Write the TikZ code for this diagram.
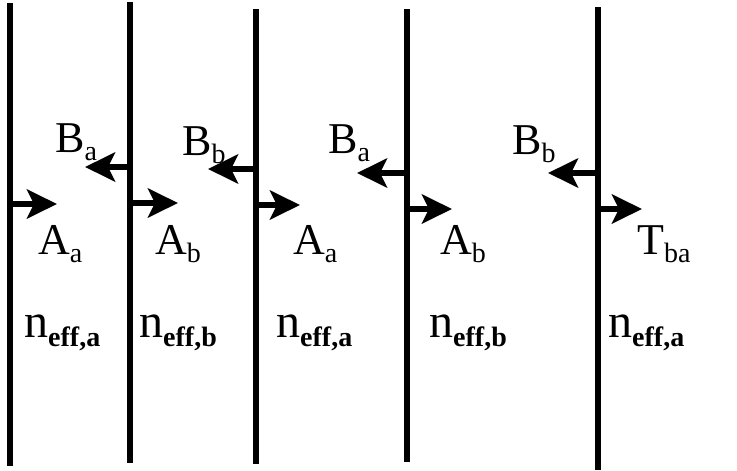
\documentclass[tikz,border=0pt]{standalone}
\usepackage{fontspec}
\setmainfont{Liberation Serif}
\usetikzlibrary{arrows.meta}
\newcommand{\lbl}[2]{#1\raisebox{-8pt}{\fontsize{28}{28}\selectfont #2}}
\newcommand{\nlbl}[1]{{\fontsize{48}{48}\selectfont n}\raisebox{-9pt}{\fontsize{28}{28}\selectfont\bfseries eff,#1}}
\tikzset{
  wall/.style={line width=6pt},
  wave/.style={line width=6pt,-{Stealth[length=30pt,width=29pt,inset=7pt]}},
  lab/.style={anchor=base west,inner sep=0pt,font=\fontsize{44}{48}\selectfont}
}
\begin{document}
\begin{tikzpicture}[x=1pt,y=-1pt]
\useasboundingbox (0,0) rectangle (737,471);
% walls
\coordinate (t1) at (10,3);   \coordinate (b1) at (10,466);
\coordinate (t2) at (130,2);  \coordinate (b2) at (130,463);
\coordinate (t3) at (256,9);  \coordinate (b3) at (256,464);
\coordinate (t4) at (407,9);  \coordinate (b4) at (407,462);
\coordinate (t5) at (598,7);  \coordinate (b5) at (598,470);
\draw[wall] (t1) -- (b1);
\draw[wall] (t2) -- (b2);
\draw[wall] (t3) -- (b3);
\draw[wall] (t4) -- (b4);
\draw[wall] (t5) -- (b5);
% right-going arrows
\coordinate (r1s) at (10,204);  \coordinate (r1e) at (57,204);
\coordinate (r2s) at (130,203); \coordinate (r2e) at (178,203);
\coordinate (r3s) at (256,205); \coordinate (r3e) at (300,205);
\coordinate (r4s) at (407,209); \coordinate (r4e) at (452,209);
\coordinate (r5s) at (598,209); \coordinate (r5e) at (642,209);
\draw[wave] (r1s) -- (r1e);
\draw[wave] (r2s) -- (r2e);
\draw[wave] (r3s) -- (r3e);
\draw[wave] (r4s) -- (r4e);
\draw[wave] (r5s) -- (r5e);
% left-going arrows
\coordinate (l2s) at (130,167); \coordinate (l2e) at (85,167);
\coordinate (l3s) at (256,169); \coordinate (l3e) at (208,169);
\coordinate (l4s) at (407,173); \coordinate (l4e) at (357,173);
\coordinate (l5s) at (598,173); \coordinate (l5e) at (548,173);
\draw[wave] (l2s) -- (l2e);
\draw[wave] (l3s) -- (l3e);
\draw[wave] (l4s) -- (l4e);
\draw[wave] (l5s) -- (l5e);
% labels
\node[lab] (B1) at (55,152) {\lbl{B}{a}};
\node[lab] (B2) at (182,155) {\lbl{B}{b}};
\node[lab] (B3) at (328,153) {\lbl{B}{a}};
\node[lab] (B4) at (512,154) {\lbl{B}{b}};
\node[lab] (A1) at (38,254) {\lbl{A}{a}};
\node[lab] (A2) at (155,254) {\lbl{A}{b}};
\node[lab] (A3) at (293,254) {\lbl{A}{a}};
\node[lab] (A4) at (440,254) {\lbl{A}{b}};
\node[lab] (T5) at (637,254) {\lbl{T}{ba}};
\node[lab] (n1) at (24,337) {\nlbl{a}};
\node[lab] (n2) at (139,337) {\nlbl{b}};
\node[lab] (n3) at (276,337) {\nlbl{a}};
\node[lab] (n4) at (429,337) {\nlbl{b}};
\node[lab] (n5) at (608,337) {\nlbl{a}};
\end{tikzpicture}
\end{document}
